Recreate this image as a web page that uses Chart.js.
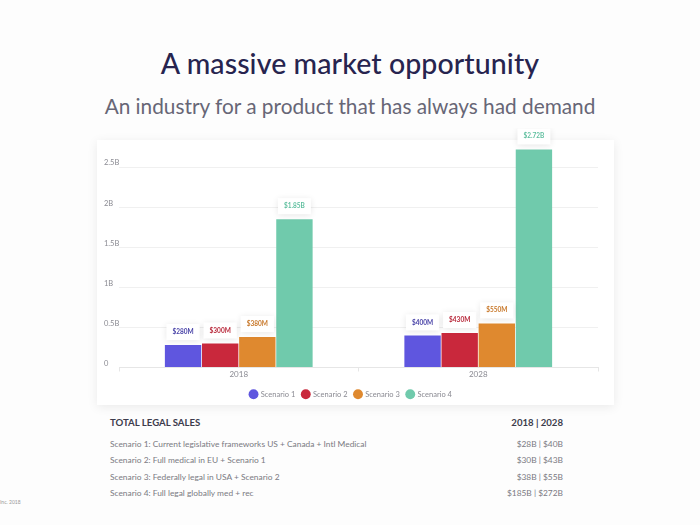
<!DOCTYPE html>
<html>
<head>
<meta charset="utf-8">
<script src="https://cdn.jsdelivr.net/npm/chart.js@4/dist/chart.umd.min.js"></script>
<style>
  html, body { margin: 0; padding: 0; }
  body { width: 700px; height: 525px; background: #fdfdfd; position: relative; overflow: hidden; font-family: Lato, "Open Sans", sans-serif; }
  #title { position: absolute; left: 0; width: 700px; top: 46px; text-align: center; font-size: 28.5px; font-weight: 500; color: #27244f; letter-spacing: 0.1px; }
  #subtitle { position: absolute; left: 0; width: 700px; top: 93px; text-align: center; font-size: 20.8px; color: #676676; }
  #card { position: absolute; left: 97px; top: 140px; width: 517px; height: 265px; background: #fff; box-shadow: 0 2px 10px rgba(0,0,0,0.08); }
  #wrap { position: absolute; left: 96px; top: 128px; width: 518px; height: 280px; }
  #table { position: absolute; left: 110px; width: 453px; top: 415px; font-size: 8.4px; color: #7a7a82; }
  .row { position: absolute; left: 0; width: 453px; height: 12px; line-height: 12px; }
  .row .r { position: absolute; right: 0; top: 0; }
  .hdr { font-size: 9.6px; font-weight: 700; color: #3c3b4c; }
  #foot { position: absolute; left: 0; top: 499px; font-size: 5px; color: #999; }
</style>
</head>
<body>
<div id="title">A massive market opportunity</div>
<div id="subtitle">An industry for a product that has always had demand</div>
<div id="card"></div>
<div id="wrap"><canvas id="c" width="518" height="280"></canvas></div>
<div id="table"></div>
<div id="foot">Inc. 2018</div>
<script>
// ---- data ----
const categories = ['2018', '2028'];
const scenario1 = [0.28, 0.40];
const scenario2 = [0.30, 0.43];
const scenario3 = [0.38, 0.55];
const scenario4 = [1.85, 2.72];
const seriesNames = ['Scenario 1', 'Scenario 2', 'Scenario 3', 'Scenario 4'];
const yTicks = [0, 0.5, 1, 1.5, 2, 2.5];
const tableHeader = ['TOTAL LEGAL SALES', '2018 | 2028'];
const tableRows = [
  'Scenario 1: Current legislative frameworks US + Canada + Intl Medical',
  'Scenario 2: Full medical in EU + Scenario 1',
  'Scenario 3: Federally legal in USA + Scenario 2',
  'Scenario 4: Full legal globally med + rec'
];
const tableValues = ['$28B | $40B', '$30B | $43B', '$38B | $55B', '$185B | $272B'];

// ---- styles ----
const colors = ['#5f56df', '#c9283c', '#df892f', '#70caac'];
const labelColors = ['#4a44a8', '#b8283a', '#c8782a', '#5fbf9f'];

// table
const tbl = document.getElementById('table');
const tops = [0, 21, 37, 54, 70];
function addRow(text, val, top, cls) {
  const d = document.createElement('div');
  d.className = 'row' + (cls ? ' ' + cls : '');
  d.style.top = top + 'px';
  d.innerHTML = '<span></span><span class="r"></span>';
  d.children[0].textContent = text;
  d.children[1].textContent = val;
  tbl.appendChild(d);
}
addRow(tableHeader[0], tableHeader[1], tops[0] + 2, 'hdr');
tableRows.forEach((t, i) => addRow(t, tableValues[i], tops[i + 1] + 2));

function fmt(v) {
  return v < 1 ? '$' + Math.round(v * 1000) + 'M' : '$' + v.toFixed(2).replace(/0$/, '') + 'B';
}

const labelPlugin = {
  id: 'barLabels',
  afterDatasetsDraw(chart) {
    const ctx = chart.ctx;
    chart.data.datasets.forEach((ds, di) => {
      const meta = chart.getDatasetMeta(di);
      meta.data.forEach((bar, i) => {
        const txt = fmt(ds.data[i]);
        ctx.save();
        ctx.font = 'bold 6.5px Lato, sans-serif';
        const w = ctx.measureText(txt).width + 12;
        const h = 16;
        const cx = bar.x, cy = bar.y - 13;
        ctx.shadowColor = 'rgba(0,0,0,0.10)';
        ctx.shadowBlur = 6;
        ctx.shadowOffsetY = 1;
        ctx.fillStyle = '#fff';
        ctx.fillRect(cx - w / 2, cy - h / 2, w, h);
        ctx.shadowColor = 'transparent';
        ctx.fillStyle = labelColors[di];
        ctx.textAlign = 'center';
        ctx.textBaseline = 'middle';
        ctx.fillText(txt, cx, cy);
        ctx.restore();
      });
    });
  }
};

const seriesData = [scenario1, scenario2, scenario3, scenario4];
new Chart(document.getElementById('c'), {
  type: 'bar',
  data: {
    labels: categories,
    datasets: seriesData.map((d, i) => ({
      label: seriesNames[i],
      data: d,
      backgroundColor: colors[i],
      borderWidth: 0,
      barPercentage: 0.98,
      categoryPercentage: 0.62
    }))
  },
  options: {
    responsive: false,
    animation: false,
    layout: { padding: { left: 8, right: 16, top: 19, bottom: 0 } },
    plugins: {
      tooltip: { enabled: false },
      legend: {
        position: 'bottom',
        labels: {
          usePointStyle: true, pointStyle: 'circle', boxWidth: 7, boxHeight: 7,
          padding: 7, color: '#8a8a92', font: { family: 'Lato', size: 7.5 }
        }
      }
    },
    scales: {
      x: {
        grid: { display: true, drawOnChartArea: false, color: '#e6e6e6', tickLength: 4 },
        border: { color: '#e6e6e6' },
        ticks: { color: '#8a8a92', font: { family: 'Lato', size: 8 }, padding: -2 },
        afterFit(s) { s.height = 16; }
      },
      y: {
        min: 0, max: 2.75,
        grid: { color: (c) => (yTicks.includes(c.tick.value) ? '#f0f0f0' : 'transparent'), drawTicks: false },
        border: { display: false },
        afterBuildTicks(s) { s.ticks = yTicks.map(v => ({ value: v })); },
        ticks: {
          crossAlign: 'far', padding: 0, labelOffset: -4,
          color: '#8a8a92', font: { family: 'Lato', size: 7.5 },
          callback: (v) => (v === 0 ? '0' : v + 'B')
        },
        afterFit(s) { s.width = 15; }
      }
    }
  },
  plugins: [labelPlugin]
});
</script>
</body>
</html>
